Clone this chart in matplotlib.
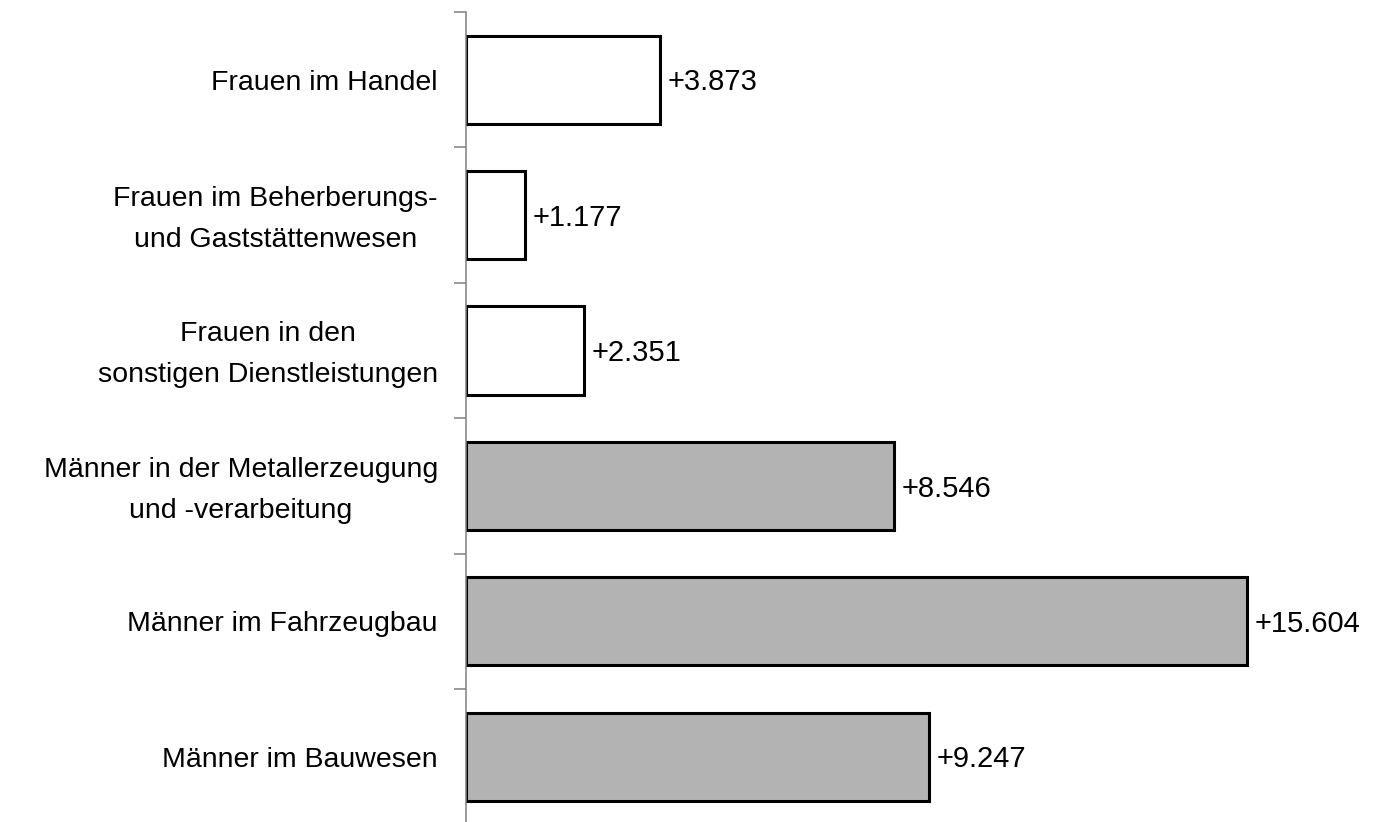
import numpy as np
import matplotlib
matplotlib.use('Agg')
import matplotlib.pyplot as plt
from matplotlib.transforms import offset_copy

# %% Data
categories = ['Frauen im Handel',
              'Frauen im Beherberungs-\nund Gaststättenwesen',
              'Frauen in den\nsonstigen Dienstleistungen',
              'Männer in der Metallerzeugung\nund -verarbeitung',
              'Männer im Fahrzeugbau',
              'Männer im Bauwesen']
values = [3.873, 1.177, 2.351, 8.546, 15.604, 9.247]
labels = ['+3.873', '+1.177', '+2.351', '+8.546', '+15.604', '+9.247']
colors = ['white', 'white', 'white', '#b3b3b3', '#b3b3b3', '#b3b3b3']

plt.rcParams['font.family'] = ['Liberation Sans', 'DejaVu Sans']

# %% Plot
W, H = 1374, 822
fig = plt.figure(figsize=(W / 100, H / 100), dpi=100)
x_max = 18
px_per_unit = 50.05
ax = fig.add_axes([466 / W, 1 - 824.4 / H, x_max * px_per_unit / W, 812.4 / H])

pos = np.arange(len(categories))
ax.barh(pos, values, height=0.65, color=colors, edgecolor='black', linewidth=2.2)
for p, v, lab in zip(pos, values, labels):
    ax.text(v + 0.15, p + 0.02, lab, va='center', ha='left', fontsize=21)

# category labels, multi-line ones nudged up a little
for p, cat in zip(pos, categories):
    dy = 6 if '\n' in cat else 0
    tr = offset_copy(ax.get_yaxis_transform(), fig=fig, x=-28, y=dy, units='dots')
    ax.text(0, p, cat, transform=tr, ha='right', va='center_baseline',
            multialignment='center', fontsize=20.5, linespacing=1.75)

ax.set_xlim(0, x_max)
ax.set_ylim(len(categories) - 0.5, -0.5)

# ticks sit on the category boundaries
ax.set_yticks(np.arange(len(categories) + 1) - 0.5)
ax.set_yticklabels([])
ax.tick_params(axis='y', which='major', length=8.5, width=1.1, color='#808080')
ax.set_xticks([])

for s in ['top', 'right', 'bottom']:
    ax.spines[s].set_visible(False)
ax.spines['left'].set_color('#808080')
ax.spines['left'].set_linewidth(1.1)

fig.savefig('out.png', dpi=100)
